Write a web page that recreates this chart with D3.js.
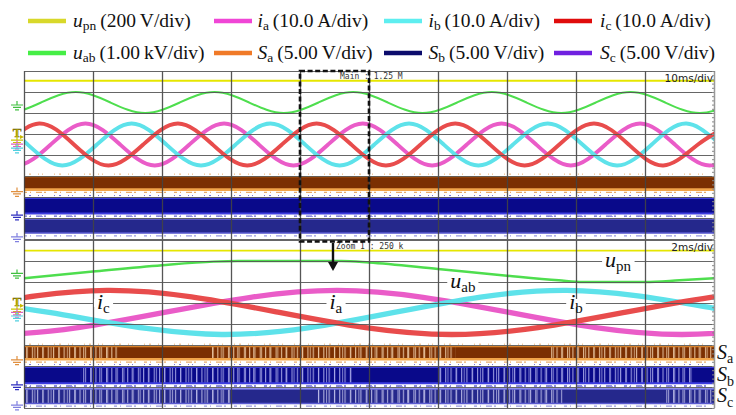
<!DOCTYPE html>
<html><head><meta charset="utf-8">
<script src="https://cdn.jsdelivr.net/npm/d3@7/dist/d3.min.js"></script>
<style>html,body{margin:0;padding:0;background:#fff;}svg{display:block;}</style>
</head><body>
<svg id="chart" width="736" height="415"></svg>
<script>
// ================= DATA =================
const seriesKeys    = ["upn","ia","ib","ic","uab","Sa","Sb","Sc"];
const seriesSymbols = ["u","i","i","i","u","S","S","S"];
const seriesSubs    = ["pn","a","b","c","ab","a","b","c"];
const seriesScales  = ["(200\u2009V/div)","(10.0\u2009A/div)","(10.0\u2009A/div)","(10.0\u2009A/div)",
                       "(1.00\u2009kV/div)","(5.00\u2009V/div)","(5.00\u2009V/div)","(5.00\u2009V/div)"];

// time ticks (ms) and vertical division ticks
const topTimeTicks = [0,10,20,30,40,50,60,70,80,90,100];
const botTimeTicks = [0,2,4,6,8,10,12,14,16,18,20];
const divTicks     = [-4,-3,-2,-1,0,1,2,3,4];
const topTimeLabel = "10ms/div";
const botTimeLabel = "2ms/div";
const mainLabel    = "Main : 1.25 M";
const zoomLabel    = "Zoom 1 : 250 k";
const zoomWindow   = [40,50];   // ms of the upper record shown below

// ---- upper record (10 ms/div), values in divisions ----
const topUpn = [[0,3.54],[100,3.54]];
const topUab = [[-7.58,2.5],[-2.55,2.0],[2.48,2.5],[7.5,3.0],[12.53,2.5],[17.55,2.0],[22.58,2.5],[27.6,3.0],
  [32.63,2.5],[37.65,2.0],[42.68,2.5],[47.7,3.0],[52.73,2.5],[57.75,2.0],[62.78,2.5],[67.8,3.0],[72.83,2.5],
  [77.85,2.0],[82.88,2.5],[87.9,3.0],[92.93,2.5],[97.95,2.0],[102.98,2.5]];
const topIa = [[-6.18,0.5],[-1.15,-0.5],[3.88,0.5],[8.9,1.5],[13.93,0.5],[18.95,-0.5],[23.98,0.5],[29.0,1.5],
  [34.03,0.5],[39.05,-0.5],[44.08,0.5],[49.1,1.5],[54.13,0.5],[59.15,-0.5],[64.18,0.5],[69.2,1.5],[74.23,0.5],
  [79.25,-0.5],[84.28,0.5],[89.3,1.5],[94.33,0.5],[99.35,-0.5],[104.38,0.5]];
const topIb = [[-9.53,0.5],[-4.5,1.5],[0.53,0.5],[5.55,-0.5],[10.58,0.5],[15.6,1.5],[20.63,0.5],[25.65,-0.5],
  [30.68,0.5],[35.7,1.5],[40.73,0.5],[45.75,-0.5],[50.78,0.5],[55.8,1.5],[60.83,0.5],[65.85,-0.5],[70.88,0.5],
  [75.9,1.5],[80.93,0.5],[85.95,-0.5],[90.98,0.5],[96.0,1.5],[101.03,0.5],[106.05,-0.5]];
const topIc = [[-7.85,-0.5],[-2.83,0.5],[2.2,1.5],[7.23,0.5],[12.25,-0.5],[17.28,0.5],[22.3,1.5],[27.33,0.5],
  [32.35,-0.5],[37.38,0.5],[42.4,1.5],[47.43,0.5],[52.45,-0.5],[57.48,0.5],[62.5,1.5],[67.53,0.5],[72.55,-0.5],
  [77.58,0.5],[82.6,1.5],[87.63,0.5],[92.65,-0.5],[97.68,0.5],[102.7,1.5]];
const topSaLevels = [-1.03,-1.65];
const topSbLevels = [-2.05,-2.78];
const topScLevels = [-3.05,-3.72];

// ---- zoomed record (2 ms/div) ----
const botUpn = [[0,3.49],[20,3.49]];
const botUab = [[0,2.18],[2.0,2.5],[4.0,2.8],[5.5,2.97],[6.2,3.0],[9.2,3.0],[10.0,2.93],[12.0,2.62],
  [14.0,2.3],[15.5,2.08],[16.2,2.0],[18.0,2.0],[19.0,2.08],[20.0,2.18]];
const botIa = [[-5.93,0.55],[-0.93,-0.5],[4.07,0.55],[9.07,1.6],[14.07,0.55],[19.07,-0.5],[24.07,0.55]];
const botIb = [[-4.27,1.6],[0.73,0.55],[5.73,-0.5],[10.73,0.55],[15.73,1.6],[20.73,0.55],[25.73,-0.5]];
const botIc = [[-7.6,-0.5],[-2.6,0.55],[2.4,1.6],[7.4,0.55],[12.4,-0.5],[17.4,0.55],[22.4,1.6],[27.4,0.55]];
const botSaLevels = [-1.08,-1.68];
const botSbLevels = [-2.05,-2.82];
const botScLevels = [-3.1,-3.78];
// intervals (ms) where each switch signal is clamped (no switching)
const botSaClamped = [[2.7,5.4],[12.5,15.2]];
const botSbClamped = [[0,1.65],[9.55,12.0],[19.4,20]];
const botScClamped = [[6.0,8.5],[15.6,18.6]];

// ground / trigger marker levels (divisions)
const topMarkerKeys = ["uab","T","upn","ia","ib","Sa","Sb","Sc"];
const topMarkerVals = [2.38,1.05,0.71,0.52,0.33,-1.74,-2.86,-3.9];
const botMarkerKeys = ["uab","T","upn","ia","ib","Sa","Sb","Sc"];
const botMarkerVals = [2.41,1.06,0.71,0.55,0.38,-1.71,-2.9,-3.86];

// trace annotations in the zoomed record
const annoSym  = ["u","u","i","i","i"];
const annoSub  = ["pn","ab","c","a","b"];
const annoT    = [17.22,12.72,2.3,9.04,16.0];
const annoV    = [3,2,1,1,1];

// ================= STYLE =================
const legendColor = {upn:"#d8d82a",ia:"#f046d6",ib:"#5eeef0",ic:"#e00c0c",uab:"#46ee46",Sa:"#f07a28",Sb:"#0c0c6c",Sc:"#7020e0"};
const traceColor  = {upn:"#e6e600",uab:"#4ede4e",ia:"#ea5cc8",ib:"#5ee2ea",ic:"#e84c4c"};
const markerColor = {uab:"#40c040",T:"#c8b800",upn:"#c8c800",ia:"#e060c0",ib:"#50d0e0",Sa:"#e09040",Sb:"#3030c0",Sc:"#8080e0"};
const bandStyle = {
  Sa:{fill:"#7b2f02",top:"#d9822b",topW:1.3,bot:"#f2a54a",botW:2.6,stripe:"#f3d2ae",noise:"#e0903a"},
  Sb:{fill:"#09098a",top:"#3d3de0",topW:2,bot:"#3d3de0",botW:2,stripe:"#b4b4f0",noise:"#3535c8"},
  Sc:{fill:"#25288c",top:"#6a6ae0",topW:1.5,bot:"#5a5ad0",botW:1.5,stripe:"#c4c4ec",noise:"#7a7ad8"}
};
const serif = "'Liberation Serif','Times New Roman',serif";

// ================= DRAW =================
const svg = d3.select("#chart");
const defs = svg.append("defs");

const topX = d3.scaleLinear([0,100],[24,714]);
const topY = d3.scaleLinear([-4,4],[239,71]);
const botX = d3.scaleLinear([0,20],[24,714]);
const botY = d3.scaleLinear([-4,4],[408,240]);

// stripe patterns for switching regions
Object.keys(bandStyle).forEach(k=>{
  [[5.3,1.1,0.85],[8.1,1.0,0.7]].forEach((p,j)=>{
    const pat = defs.append("pattern").attr("id",`st_${k}_${j}`).attr("patternUnits","userSpaceOnUse")
      .attr("width",p[0]).attr("height",30).attr("x",j*2);
    pat.append("rect").attr("x",0).attr("y",0).attr("width",p[1]).attr("height",30)
      .attr("fill",bandStyle[k].stripe).attr("opacity",p[2]);
  });
});

function complement(segs,d0,d1){
  const out=[]; let cur=d0;
  segs.slice().sort((a,b)=>a[0]-b[0]).forEach(s=>{ if(s[0]>cur) out.push([cur,s[0]]); cur=Math.max(cur,s[1]); });
  if(cur<d1) out.push([cur,d1]);
  return out;
}

function groundMarker(g,x,y,color){
  g.append("path").attr("d",`M${x-6},${y}H${x+6}M${x-4},${y+2.4}H${x+4}M${x-2},${y+4.8}H${x+2}M${x},${y-4}V${y}`)
    .attr("stroke",color).attr("stroke-width",1.2).attr("fill","none");
}

function drawPanel(cfg){
  const {id,x,y,traces,bands,markerKeys,markerVals} = cfg;
  const [x0,x1]=x.range(), [yb,yt]=y.range();
  const g = svg.append("g");
  defs.append("clipPath").attr("id",id+"clip").append("rect")
    .attr("x",x0).attr("y",yt).attr("width",x1-x0).attr("height",yb-yt);
  const body = g.append("g").attr("clip-path",`url(#${id}clip)`);

  // switching bands
  bands.forEach(b=>{
    const s = bandStyle[b.key];
    const yh = y(b.levels[0]), yl = y(b.levels[1]);
    const dom = x.domain();
    body.append("line").attr("x1",x0).attr("x2",x1).attr("y1",yh-2.5).attr("y2",yh-2.5)
      .attr("stroke",s.noise).attr("stroke-width",1).attr("stroke-dasharray","1,4,2,7,1,3,1,11").attr("opacity",0.7);
    body.append("line").attr("x1",x0).attr("x2",x1).attr("y1",yl+2.8).attr("y2",yl+2.8)
      .attr("stroke",s.noise).attr("stroke-width",1.3).attr("stroke-dasharray","3,3,1,5,6,2,2,8").attr("opacity",0.75);
    body.append("rect").attr("x",x(dom[0])).attr("width",x(dom[1])-x(dom[0]))
      .attr("y",yh).attr("height",yl-yh).attr("fill",s.fill);
    if(b.clamped){
      complement(b.clamped,dom[0],dom[1]).forEach(seg=>{
        [0,1].forEach(j=>{
          body.append("rect").attr("x",x(seg[0])).attr("width",x(seg[1])-x(seg[0]))
            .attr("y",yh).attr("height",yl-yh).attr("fill",`url(#st_${b.key}_${j})`);
        });
      });
    }
    body.append("line").attr("x1",x0).attr("x2",x1).attr("y1",yh).attr("y2",yh)
      .attr("stroke",s.top).attr("stroke-width",s.topW);
    body.append("line").attr("x1",x0).attr("x2",x1).attr("y1",yl).attr("y2",yl)
      .attr("stroke",s.bot).attr("stroke-width",s.botW);
  });

  // grid via axes
  g.append("g").attr("transform",`translate(0,${yb})`)
    .call(d3.axisBottom(x).tickValues(cfg.timeTicks).tickSize(-(yb-yt)).tickFormat(""))
    .call(s=>s.select(".domain").remove())
    .call(s=>s.selectAll("line").attr("stroke","#444").attr("stroke-width",1.3).attr("opacity",0.9));
  g.append("g").attr("transform",`translate(${x0},0)`)
    .call(d3.axisLeft(y).tickValues(divTicks).tickSize(-(x1-x0)).tickFormat(""))
    .call(s=>s.select(".domain").remove())
    .call(s=>s.selectAll("line").attr("stroke","#555").attr("stroke-width",1.1).attr("opacity",0.9));
  // right ruler ticks
  g.append("g").attr("transform",`translate(${x1},0)`)
    .call(d3.axisLeft(y).tickValues(d3.range(-4,4.01,0.2)).tickSize(2).tickFormat(""))
    .call(s=>s.select(".domain").attr("stroke","#999"))
    .call(s=>s.selectAll("line").attr("stroke","#888"));

  // traces
  traces.forEach(t=>{
    const line = d3.line().x(d=>x(d[0])).y(d=>y(d[1])).curve(t.curve);
    body.append("path").datum(t.data).attr("d",line).attr("fill","none")
      .attr("stroke",traceColor[t.key]).attr("stroke-width",t.w).attr("stroke-linejoin","round");
  });

  // left markers
  markerKeys.forEach((k,i)=>{
    const yy = y(markerVals[i]);
    if(k==="T"){
      g.append("text").attr("x",17).attr("y",yy+4).attr("text-anchor","middle")
        .attr("font-family",serif).attr("font-weight","bold").attr("font-size",13)
        .attr("fill",markerColor.T).attr("stroke","#665500").attr("stroke-width",0.4).text("T");
      g.append("path").attr("d",`M20,${yy+2}L24,${yy+4}L20,${yy+6}Z`).attr("fill",markerColor.T);
    } else {
      groundMarker(g,17,yy,markerColor[k]);
    }
  });
  return g;
}

// upper record
drawPanel({
  id:"top", x:topX, y:topY, timeTicks:topTimeTicks,
  bands:[{key:"Sa",levels:topSaLevels},{key:"Sb",levels:topSbLevels},{key:"Sc",levels:topScLevels}],
  traces:[
    {key:"upn",data:topUpn,w:2,curve:d3.curveLinear},
    {key:"uab",data:topUab,w:2,curve:d3.curveNatural},
    {key:"ia",data:topIa,w:3.9,curve:d3.curveNatural},
    {key:"ib",data:topIb,w:3.9,curve:d3.curveNatural},
    {key:"ic",data:topIc,w:3.9,curve:d3.curveNatural}
  ],
  markerKeys:topMarkerKeys, markerVals:topMarkerVals
});

// zoomed record
drawPanel({
  id:"bot", x:botX, y:botY, timeTicks:botTimeTicks,
  bands:[{key:"Sa",levels:botSaLevels,clamped:botSaClamped},{key:"Sb",levels:botSbLevels,clamped:botSbClamped},
         {key:"Sc",levels:botScLevels,clamped:botScClamped}],
  traces:[
    {key:"upn",data:botUpn,w:1.8,curve:d3.curveLinear},
    {key:"uab",data:botUab,w:2.4,curve:d3.curveMonotoneX},
    {key:"ia",data:botIa,w:5.3,curve:d3.curveNatural},
    {key:"ib",data:botIb,w:5.3,curve:d3.curveNatural},
    {key:"ic",data:botIc,w:5.3,curve:d3.curveNatural}
  ],
  markerKeys:botMarkerKeys, markerVals:botMarkerVals
});

// scope texts
const mono = "'DejaVu Sans Mono',monospace";
svg.append("text").attr("x",topX(100)-1).attr("y",82).attr("text-anchor","end")
  .attr("font-family","'DejaVu Sans',sans-serif").attr("font-size",10.5).attr("fill","#222").text(topTimeLabel);
svg.append("text").attr("x",botX(20)-1).attr("y",251).attr("text-anchor","end")
  .attr("font-family","'DejaVu Sans',sans-serif").attr("font-size",10.5).attr("fill","#222").text(botTimeLabel);
svg.append("text").attr("x",340).attr("y",79).attr("font-family",mono).attr("font-size",8).attr("fill","#333").text(mainLabel);
svg.append("text").attr("x",336).attr("y",249).attr("font-family",mono).attr("font-size",8).attr("fill","#333").text(zoomLabel);

// zoom window box and arrow
const bx0 = topX(zoomWindow[0]), bx1 = topX(zoomWindow[1]);
svg.append("rect").attr("x",bx0).attr("y",71).attr("width",bx1-bx0).attr("height",170.5)
  .attr("fill","none").attr("stroke","#111").attr("stroke-width",2.6).attr("stroke-dasharray","5,2.6");
const ax = (bx0+bx1)/2 - 1.5;
svg.append("line").attr("x1",ax).attr("x2",ax).attr("y1",243).attr("y2",263).attr("stroke","#111").attr("stroke-width",2.4);
svg.append("path").attr("d",`M${ax-5},${262}L${ax+5},${262}L${ax},${271}Z`).attr("fill","#111");

// annotations on the zoomed record
function mathText(g,x,y,sym,sub,size,subSize,anchor){
  const t = g.append("text").attr("x",x).attr("y",y).attr("text-anchor",anchor)
    .attr("font-family",serif).attr("font-size",size).attr("fill","#111");
  t.append("tspan").attr("font-style","italic").text(sym);
  t.append("tspan").attr("font-size",subSize).attr("dy",size*0.22).text(sub);
  return t;
}
const annoG = svg.append("g");
annoSym.forEach((s,i)=>{
  const xx = botX(annoT[i]), yy = botY(annoV[i]);
  const t = mathText(annoG,xx,yy+5.5,s,annoSub[i],22,15,"middle");
  const bb = t.node().getBBox();
  annoG.insert("rect",()=>t.node()).attr("x",bb.x-3).attr("y",yy-4).attr("width",bb.width+6).attr("height",8).attr("fill","#fff");
});
// switch labels at the right edge
const sLab = ["a","b","c"], sV=[botSaLevels,botSbLevels,botScLevels];
sLab.forEach((s,i)=>{
  const yy = (botY(sV[i][0])+botY(sV[i][1]))/2;
  mathText(svg,717,yy+6,"S",s,20,14,"start");
});

// legend
const legSwX = [28,214,384,554], legTxX=[73,257.5,428.5,600], legRowY=[21,53];
const leg = svg.append("g");
seriesKeys.forEach((k,i)=>{
  const row=Math.floor(i/4), col=i%4, sy=legRowY[row];
  leg.append("line").attr("x1",legSwX[col]).attr("x2",legSwX[col]+38).attr("y1",sy).attr("y2",sy)
    .attr("stroke",legendColor[k]).attr("stroke-width",4.5);
  const t = leg.append("text").attr("x",legTxX[col]).attr("y",sy+5.8)
    .attr("font-family",serif).attr("font-size",19.5).attr("fill","#111");
  t.append("tspan").attr("font-style","italic").text(seriesSymbols[i]);
  t.append("tspan").attr("font-size",13.5).attr("dy",3.5).text(seriesSubs[i]);
  t.append("tspan").attr("dy",-3.5).text("\u2009"+seriesScales[i]);
});
</script>
</body></html>
